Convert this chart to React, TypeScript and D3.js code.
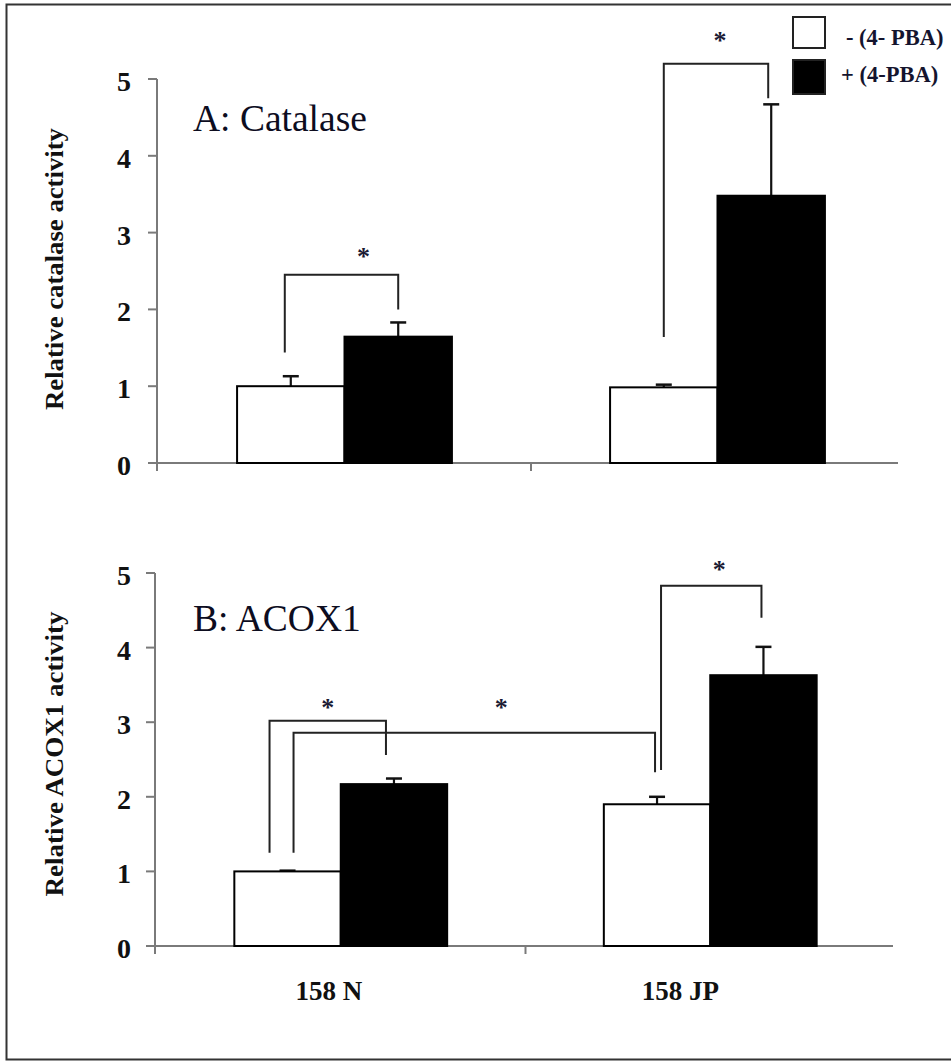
import React from "react";
import * as d3 from "d3";

// ---------- data ----------
const categories = ["158 N", "158 JP"];
const seriesNames = ["- (4- PBA)", "+ (4-PBA)"];
const yTicks = [0, 1, 2, 3, 4, 5];

const catalaseMinus = [1.0, 0.985];
const catalaseMinusErr = [0.13, 0.035];
const catalasePlus = [1.645, 3.48];
const catalasePlusErr = [0.185, 1.19];

const acoxMinus = [1.0, 1.9];
const acoxMinusErr = [0.01, 0.1];
const acoxPlus = [2.17, 3.63];
const acoxPlusErr = [0.075, 0.38];

// brackets: [category, series] endpoints, leg-bottom values and top value, star value
const catalaseBrackets = [
  { a: [0, 0], b: [0, 1], left: 1.44, top: 2.45, right: 2.0, star: 2.73 },
  { a: [1, 0], b: [1, 1], left: 1.64, top: 5.2, right: 4.75, star: 5.55 },
];
const acoxBrackets = [
  { a: [0, 0], b: [0, 1], left: 1.25, top: 3.02, right: 2.56, star: 3.25 },
  { a: [0, 0], b: [1, 0], left: 1.25, top: 2.86, right: 2.33, star: 3.25 },
  { a: [1, 0], b: [1, 1], left: 2.36, top: 4.83, right: 4.4, star: 5.09 },
];

// ---------- layout ----------
const W = 951;
const H = 1061;
const FONT = "'Liberation Serif', 'Times New Roman', Times, serif";

const panels = [
  {
    title: "A: Catalase",
    yLabel: "Relative catalase activity",
    yLabelLen: 282,
    yLabelCy: 269,
    titleY: 131,
    x0: 158, x1: 904, axisEnd: 898, yBase: 463, yTop: 79,
    minus: catalaseMinus, minusErr: catalaseMinusErr,
    plus: catalasePlus, plusErr: catalasePlusErr,
    brackets: catalaseBrackets,
    legDx: [[-6, 0], [0, -3]],
    starDx: [22, 4],
    showCats: false,
  },
  {
    title: "B: ACOX1",
    yLabel: "Relative ACOX1 activity",
    yLabelLen: 285,
    yLabelCy: 754,
    titleY: 631,
    x0: 156, x1: 895, axisEnd: 893, yBase: 946, yTop: 573,
    minus: acoxMinus, minusErr: acoxMinusErr,
    plus: acoxPlus, plusErr: acoxPlusErr,
    brackets: acoxBrackets,
    legDx: [[-18, -8], [6, -2], [4, -2]],
    starDx: [0, 27, 8],
    showCats: true,
  },
];
const catLabelDx = [-12, -30];

function Panel({ p }: { p: any }) {
  const x = d3.scaleBand<string>().domain(categories).range([p.x0, p.x1]).padding(0);
  const y = d3.scaleLinear().domain([0, 5]).range([p.yBase, p.yTop]);
  const bw = x.bandwidth() * 0.288;
  const center = (c: number) => (x(categories[c]) as number) + x.bandwidth() / 2;
  const barX = (c: number, s: number) => center(c) - bw + s * bw;
  const barMid = (c: number, s: number) => barX(c, s) + bw / 2;
  const values = [p.minus, p.plus];
  const errs = [p.minusErr, p.plusErr];
  const axisColor = "#7a7a7a";
  const cap = 16;

  return (
    <g>
      {/* y axis */}
      <line x1={p.x0 - 1} x2={p.x0 - 1} y1={y(5)} y2={p.yBase + 8} stroke={axisColor} strokeWidth={2} />
      {yTicks.map((t) => (
        <g key={t}>
          <line x1={p.x0 - 10} x2={p.x0 - 1} y1={y(t)} y2={y(t)} stroke={axisColor} strokeWidth={2} />
          <text x={131} y={y(t) + 12} textAnchor="end" fontFamily={FONT} fontWeight="bold" fontSize={28} fill="#111">
            {t}
          </text>
        </g>
      ))}
      {/* x axis */}
      <line x1={p.x0 - 1} x2={p.axisEnd} y1={p.yBase} y2={p.yBase} stroke={axisColor} strokeWidth={2} />
      <line x1={p.x0 + x.bandwidth()} x2={p.x0 + x.bandwidth()} y1={p.yBase} y2={p.yBase + 8} stroke={axisColor} strokeWidth={2} />

      {/* bars */}
      {categories.map((c, ci) =>
        [0, 1].map((s) => {
          const v = values[s][ci];
          const e = errs[s][ci];
          const bx = barX(ci, s);
          const m = barMid(ci, s);
          return (
            <g key={c + s}>
              <line x1={m} x2={m} y1={y(v)} y2={y(v + e)} stroke="#111" strokeWidth={2.2} />
              <line x1={m - cap / 2} x2={m + cap / 2} y1={y(v + e)} y2={y(v + e)} stroke="#111" strokeWidth={2.5} />
              <rect
                x={bx}
                y={y(v)}
                width={bw}
                height={p.yBase - y(v)}
                fill={s === 0 ? "#fff" : "#000"}
                stroke="#000"
                strokeWidth={2}
              />
            </g>
          );
        })
      )}

      {/* significance brackets */}
      {p.brackets.map((b: any, i: number) => {
        const xl = barMid(b.a[0], b.a[1]) + p.legDx[i][0];
        const xr = barMid(b.b[0], b.b[1]) + p.legDx[i][1];
        const d = `M${xl},${y(b.left)}V${y(b.top)}H${xr}V${y(b.right)}`;
        return (
          <g key={i}>
            <path d={d} fill="none" stroke="#222" strokeWidth={2} />
            <text
              x={(xl + xr) / 2 + p.starDx[i]}
              y={y(b.star) + 12}
              textAnchor="middle"
              fontFamily={FONT}
              fontWeight="bold"
              fontSize={26}
              fill="#1a1a33"
            >
              *
            </text>
          </g>
        );
      })}

      {/* title */}
      <text x={193} y={p.titleY} fontFamily={FONT} fontSize={37.5} fill="#0d0d1f">
        {p.title}
      </text>

      {/* y label */}
      <text
        transform={`translate(63,${p.yLabelCy}) rotate(-90)`}
        textAnchor="middle"
        fontFamily={FONT}
        fontWeight="bold"
        fontSize={26}
        textLength={p.yLabelLen}
        lengthAdjust="spacingAndGlyphs"
        fill="#111"
      >
        {p.yLabel}
      </text>

      {/* category labels */}
      {p.showCats &&
        categories.map((c, ci) => (
          <text
            key={c}
            x={center(ci) + catLabelDx[ci]}
            y={1000}
            textAnchor="middle"
            fontFamily={FONT}
            fontWeight="bold"
            fontSize={27}
            fill="#111"
          >
            {c}
          </text>
        ))}
    </g>
  );
}

export default function App() {
  return (
    <svg
      width={W}
      height={H}
      viewBox={`0 0 ${W} ${H}`}
      style={{ position: "absolute", left: 0, top: 0, background: "#fff" }}
    >
      <rect x={0} y={0} width={W} height={H} fill="#fff" />
      {/* frame (right side cropped) */}
      <path d={`M${W + 5},4.5H6.5V1059.5H${W + 5}`} fill="none" stroke="#333" strokeWidth={2} />

      {panels.map((p, i) => (
        <Panel key={i} p={p} />
      ))}

      {/* legend */}
      {seriesNames.map((s, i) => (
        <g key={s}>
          <rect
            x={793}
            y={i === 0 ? 17 : 60}
            width={32}
            height={i === 0 ? 31 : 34}
            fill={i === 0 ? "#fff" : "#000"}
            stroke="#222"
            strokeWidth={2}
          />
          <text
            x={i === 0 ? 846 : 841}
            y={i === 0 ? 45 : 82}
            fontFamily={FONT}
            fontWeight="bold"
            fontSize={22.5}
            fill="#14142e"
          >
            {s}
          </text>
        </g>
      ))}
    </svg>
  );
}
